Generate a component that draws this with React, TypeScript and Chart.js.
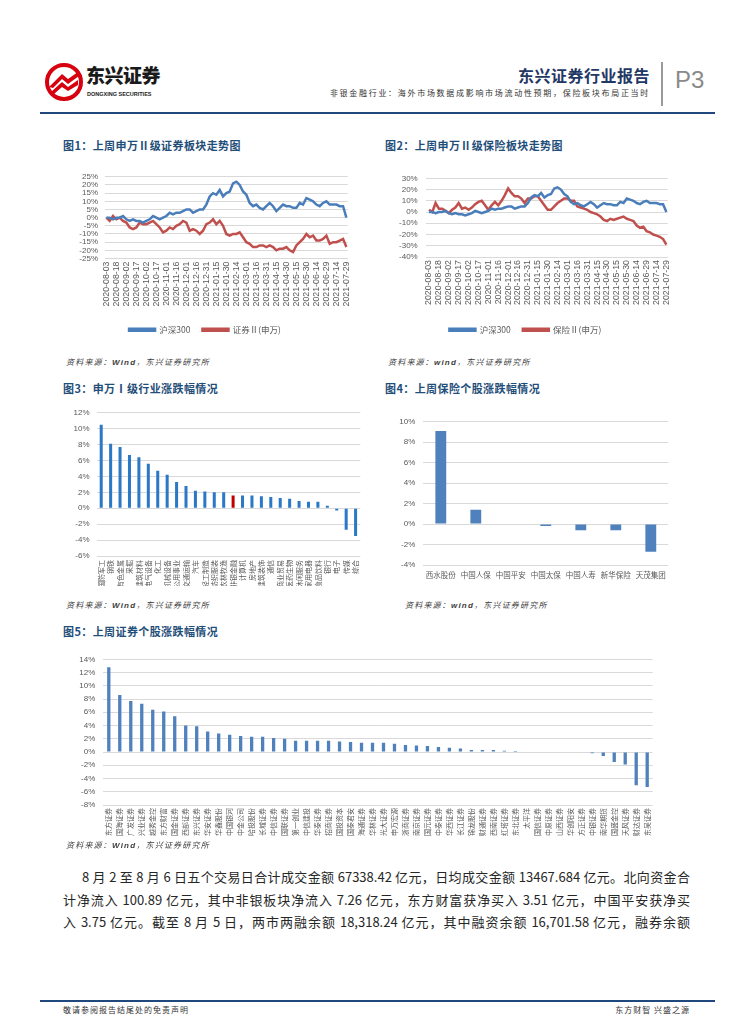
import React, { useEffect, useRef } from "react";
import { Chart, registerables } from "chart.js";

Chart.register(...registerables);

// ---------------- data ----------------
const SAMPLE_DAYS = 5; // one reading every 5 calendar days
const TICK_GAP_DAYS = 15;
const lineTickLabels = [
  "2020-08-03", "2020-08-18", "2020-09-02", "2020-09-17", "2020-10-02",
  "2020-10-17", "2020-11-01", "2020-11-16", "2020-12-01", "2020-12-16",
  "2020-12-31", "2021-01-15", "2021-01-30", "2021-02-14", "2021-03-01",
  "2021-03-16", "2021-03-31", "2021-04-15", "2021-04-30", "2021-05-15",
  "2021-05-30", "2021-06-14", "2021-06-29", "2021-07-14", "2021-07-29",
];

const hs300 = [
  0, 0, -1, 0, 0, 1, -1, -2, -1, -2,
  -2, -3, -2, -1, 1, 0, -1, 0, 1, 3,
  2, 3, 3, 4, 5, 5, 3, 4, 5, 5,
  8, 13, 15, 14, 17, 13, 15, 16, 21, 22,
  20, 16, 14, 9, 7, 8, 6, 5, 7, 9,
  7, 4, 6, 8, 7, 7, 6, 6, 9, 8,
  12, 11, 10, 8, 7, 9, 10, 8, 8, 8,
  7, 7, 0,
];

const securitiesII = [
  0, -2, 1, -1, 0, -2, -3, -6, -7, -6,
  -3, -4, -4, -3, -2, -4, -6, -9, -8, -6,
  -7, -5, -4, -2, -3, -8, -7, -8, -10, -8,
  -4, -3, -1, -4, -2, -5, -10, -11, -10, -10,
  -9, -12, -15, -16, -18, -18, -17, -17, -18, -17,
  -18, -20, -19, -19, -18, -20, -21, -17, -15, -13,
  -10, -12, -11, -14, -14, -13, -11, -16, -15, -15,
  -14, -13, -18,
];

const insuranceII = [
  2, 0, 8, 3, 3, 1, -1, 2, 4, 8,
  3, 4, 2, 4, 7, 9, 10, 6, 2, 6,
  9, 6, 10, 15, 21, 17, 14, 14, 12, 8,
  12, 12, 14, 14, 10, 6, 2, 2, 5, 8,
  10, 12, 12, 10, 10, 5, 4, 3, 2, 0,
  -1, -2, -4, -7, -8, -6, -7, -6, -5, -4,
  -6, -7, -8, -12, -14, -13, -17, -18, -20, -21,
  -22, -24, -29,
];

const industryLabels = [
  "国防军工", "钢铁", "有色金属", "采掘", "建筑材料", "电气设备", "化工",
  "机械设备", "公用事业", "交通运输", "汽车", "轻工制造", "纺织服装", "农林牧渔",
  "非银金融", "计算机", "房地产", "建筑装饰", "通信", "商业贸易", "医药生物",
  "休闲服务", "家用电器", "食品饮料", "银行", "电子", "传媒", "综合",
];
const industryValues = [
  10.5, 8.1, 7.7, 6.7, 6.4, 5.6, 4.7, 4.2, 3.3, 2.8, 2.2, 2.1, 2.0, 2.0,
  1.6, 1.6, 1.6, 1.5, 1.4, 1.3, 1.2, 0.9, 0.8, 0.8, 0.3, -0.3, -2.7, -3.5,
];
const highlightIndustry = "非银金融";

const insurerLabels = ["西水股份", "中国人保", "中国平安", "中国太保", "中国人寿", "新华保险", "天茂集团"];
const insurerValues = [9.1, 1.4, 0, -0.2, -0.6, -0.6, -2.7];

const brokerLabels = [
  "东方证券", "国海证券", "广发证券", "兴业证券", "越秀金控", "东方财富", "国金证券",
  "西部证券", "东兴证券", "华安证券", "华鑫股份", "中国银河", "中金公司", "哈投股份",
  "长城证券", "中信证券", "国联证券", "第一创业", "中信建投", "华泰证券", "招商证券",
  "国投资本", "国泰君安", "海通证券", "华林证券", "光大证券", "申万宏源", "浙商证券",
  "南京证券", "国元证券", "中泰证券", "华西证券", "长江证券", "锦龙股份", "财通证券",
  "西南证券", "红塔证券", "东北证券", "太平洋", "国信证券", "中原证券", "山西证券",
  "华创阳安", "方正证券", "中银证券", "南华期货", "国盛金控", "天风证券", "财达证券",
  "东吴证券",
];
const brokerValues = [
  12.8, 8.6, 7.7, 7.3, 6.4, 6.1, 5.4, 4.0, 3.9, 3.1,
  2.8, 2.6, 2.4, 2.3, 2.3, 2.1, 2.0, 1.7, 1.7, 1.7,
  1.7, 1.6, 1.5, 1.4, 1.4, 1.4, 1.25, 1.05, 1.0, 0.9,
  0.75, 0.65, 0.55, 0.3, 0.3, 0.3, 0.2, 0.15, 0, 0,
  0, 0, 0, 0, -0.2, -0.6, -1.5, -1.9, -5.0, -5.3,
];

// ---------------- styles ----------------
const FONT = '"Liberation Sans", "Noto Sans CJK SC", sans-serif';
const CJK = '"Noto Sans CJK SC", "Liberation Sans", sans-serif';
const TICK = "#595959";
const GRID = "#d9d9d9";
const BLUE_LINE = "#4a7ebb";
const RED_LINE = "#c0504d";
const BAR_BLUE = "#2a78c6";
const BAR_RED = "#c00000";
const BAR_STEEL = "#4f81bd";
const TITLE_BLUE = "#1f4e79";

const tf = (size: number) => ({ family: FONT, size });

function yAxis(min: number, max: number, step: number, width: number, pad: number) {
  return {
    min,
    max,
    ticks: {
      stepSize: step,
      autoSkip: false,
      callback: (v: any) => `${v}%`,
      padding: pad,
      color: TICK,
      font: tf(8),
    },
    grid: { color: GRID, drawTicks: false, lineWidth: 1 },
    border: { display: false },
    afterFit: (s: any) => {
      s.width = width;
    },
  };
}

function dateAxis(min: number, max: number, height: number) {
  return {
    type: "linear",
    min,
    max,
    afterBuildTicks: (s: any) => {
      s.ticks = lineTickLabels.map((_, i) => ({ value: i * TICK_GAP_DAYS }));
    },
    ticks: {
      autoSkip: false,
      maxRotation: 90,
      minRotation: 90,
      padding: 3,
      color: TICK,
      font: tf(8.8),
      callback: (_v: any, i: number) => lineTickLabels[i],
    },
    grid: { display: false, drawTicks: false },
    border: { display: false },
    afterFit: (s: any) => {
      s.height = height;
    },
  };
}

const toPoints = (vals: number[]) => vals.map((v, i) => ({ x: i * SAMPLE_DAYS, y: v }));

function lineConfig(
  redLabel: string,
  redVals: number[],
  yMin: number,
  yMax: number,
  yStep: number,
  xMin: number,
  xMax: number,
  pad: { left: number; top: number; right: number; bottom: number },
  xHeight: number,
  yWidth: number,
  yPad: number
) {
  return {
    type: "line",
    data: {
      datasets: [
        { label: "沪深300", data: toPoints(hs300), borderColor: BLUE_LINE, backgroundColor: BLUE_LINE, borderWidth: 2.5, pointRadius: 0, tension: 0 },
        { label: redLabel, data: toPoints(redVals), borderColor: RED_LINE, backgroundColor: RED_LINE, borderWidth: 2.5, pointRadius: 0, tension: 0 },
      ],
    },
    options: {
      responsive: false,
      animation: false,
      events: [],
      layout: { padding: pad },
      plugins: {
        tooltip: { enabled: false },
        legend: {
          position: "bottom",
          labels: { boxWidth: 26, boxHeight: 2, padding: 12, color: TICK, font: { family: CJK, size: 8.5 } },
        },
      },
      scales: {
        x: dateAxis(xMin, xMax, xHeight),
        y: yAxis(yMin, yMax, yStep, yWidth, yPad),
      },
    },
  };
}

function barConfig(o: {
  labels: string[];
  values: number[];
  colors: string[];
  yMin: number;
  yMax: number;
  yWidth: number;
  yPad: number;
  xHeight: number;
  xPad: number;
  rotate: boolean;
  xFont: number;
  pad: { left: number; top: number; right: number; bottom: number };
  barPct: number;
}) {
  return {
    type: "bar",
    data: {
      labels: o.labels,
      datasets: [{ data: o.values, backgroundColor: o.colors, barPercentage: o.barPct, categoryPercentage: 1 }],
    },
    options: {
      responsive: false,
      animation: false,
      events: [],
      layout: { padding: o.pad },
      plugins: { legend: { display: false }, tooltip: { enabled: false } },
      scales: {
        x: {
          grid: { display: false, drawTicks: false },
          border: { display: false },
          ticks: {
            autoSkip: false,
            maxRotation: o.rotate ? 90 : 0,
            minRotation: o.rotate ? 90 : 0,
            padding: o.xPad,
            color: TICK,
            font: { family: CJK, size: o.xFont },
          },
          afterFit: (s: any) => {
            s.height = o.xHeight;
          },
        },
        y: yAxis(o.yMin, o.yMax, 2, o.yWidth, o.yPad),
      },
    },
  };
}

// ---------------- components ----------------
function ChartBox({ x, y, w, h, make }: { x: number; y: number; w: number; h: number; make: () => any }) {
  const ref = useRef<HTMLCanvasElement>(null);
  useEffect(() => {
    if (!ref.current) return;
    const chart = new Chart(ref.current, make());
    return () => chart.destroy();
  }, []);
  return (
    <canvas
      ref={ref}
      width={w}
      height={h}
      style={{ position: "absolute", left: x, top: y, width: w, height: h, display: "block" }}
    />
  );
}

function T({ x, y, size, children, style }: { x: number; y: number; size: number; children: any; style?: any }) {
  return (
    <div
      style={{
        position: "absolute",
        left: x,
        top: y,
        fontSize: size,
        lineHeight: 1.2,
        whiteSpace: "nowrap",
        fontFamily: CJK,
        color: "#333",
        ...style,
      }}
    >
      {children}
    </div>
  );
}

const titleStyle = { color: TITLE_BLUE, fontWeight: 700, letterSpacing: 0.4 };
const srcStyle = { fontStyle: "italic", color: "#404040", letterSpacing: 1.2 };

const paraLines = [
  "8 月 2 至 8 月 6 日五个交易日合计成交金额 67338.42 亿元，日均成交金额 13467.684 亿元。北向资金合",
  "计净流入 100.89 亿元，其中非银板块净流入 7.26 亿元，东方财富获净买入 3.51 亿元，中国平安获净买",
  "入 3.75 亿元。截至 8 月 5 日，两市两融余额 18,318.24 亿元，其中融资余额 16,701.58 亿元，融券余额",
];

export default function App() {
  return (
    <div
      style={{
        position: "absolute",
        left: 0,
        top: 0,
        width: 755,
        height: 1024,
        background: "#fff",
        overflow: "hidden",
        fontFamily: CJK,
      }}
    >
      {/* header */}
      <svg style={{ position: "absolute", left: 44, top: 62 }} width={40} height={40} viewBox="0 0 40 40">
        <circle cx="20" cy="20" r="17" fill="#fff" stroke="#d7000f" strokeWidth="4" />
        <path d="M5 25 L18 12 L24 17 L34 10 L35 14 L24 22 L18 17 L9 26 Z" fill="#d7000f" />
        <path d="M7 30 L18 20 L24 25 L34 18 L34 23 L24 29 L18 25 L10 32 Z" fill="#d7000f" />
      </svg>
      <T x={86} y={64} size={19} style={{ fontWeight: 900, color: "#1a1a1a", letterSpacing: -0.5 }}>
        东兴证券
      </T>
      <T x={87} y={91} size={5.5} style={{ fontFamily: FONT, fontWeight: 700, color: "#1a1a1a" }}>
        DONGXING SECURITIES
      </T>
      <div
        style={{
          position: "absolute",
          right: 105,
          top: 66,
          fontSize: 16,
          lineHeight: 1.2,
          fontWeight: 700,
          color: "#1f3864",
          letterSpacing: 0.5,
          fontFamily: CJK,
          whiteSpace: "nowrap",
        }}
      >
        东兴证券行业报告
      </div>
      <div
        style={{
          position: "absolute",
          right: 105,
          top: 88,
          fontSize: 8,
          lineHeight: 1.2,
          color: "#333",
          letterSpacing: 1.7,
          fontFamily: CJK,
          whiteSpace: "nowrap",
        }}
      >
        非银金融行业：海外市场数据成影响市场流动性预期，保险板块布局正当时
      </div>
      <div style={{ position: "absolute", left: 661, top: 62, width: 1.5, height: 44, background: "#9a9a9a" }} />
      <T x={675} y={66} size={24} style={{ fontFamily: FONT, color: "#8a8a8a", fontWeight: 300 }}>
        P3
      </T>
      <div style={{ position: "absolute", left: 40, top: 112, width: 675, height: 1.5, background: "#1f497d" }} />

      {/* chart titles */}
      <T x={63} y={139} size={11} style={titleStyle}>图1：上周申万Ⅱ级证券板块走势图</T>
      <T x={385} y={139} size={11} style={titleStyle}>图2：上周申万Ⅱ级保险板块走势图</T>
      <T x={63} y={382} size={11} style={titleStyle}>图3：申万Ⅰ级行业涨跌幅情况</T>
      <T x={385} y={382} size={11} style={titleStyle}>图4：上周保险个股涨跌幅情况</T>
      <T x={63} y={625} size={11} style={titleStyle}>图5：上周证券个股涨跌幅情况</T>

      {/* charts */}
      <ChartBox
        x={60}
        y={165}
        w={300}
        h={180}
        make={() =>
          lineConfig("证券Ⅱ(申万)", securitiesII, -25, 25, 5, -2, 362, { left: 0, top: 11, right: 10, bottom: 1 }, 55, 45, 7)
        }
      />
      <ChartBox
        x={380}
        y={165}
        w={300}
        h={180}
        make={() =>
          lineConfig("保险Ⅱ(申万)", insuranceII, -40, 30, 10, -5, 362, { left: 0.7, top: 13.3, right: 10, bottom: 1 }, 56.5, 45, 8)
        }
      />
      <ChartBox
        x={60}
        y={400}
        w={310}
        h={190}
        make={() =>
          barConfig({
            labels: industryLabels,
            values: industryValues,
            colors: industryLabels.map((l) => (l === highlightIndustry ? BAR_RED : BAR_BLUE)),
            yMin: -6,
            yMax: 12,
            yWidth: 36.5,
            yPad: 7,
            xHeight: 30,
            xPad: 4,
            rotate: true,
            xFont: 7,
            pad: { left: 0, top: 12.7, right: 9.7, bottom: 4 },
            barPct: 0.32,
          })
        }
      />
      <ChartBox
        x={380}
        y={400}
        w={310}
        h={195}
        make={() =>
          barConfig({
            labels: insurerLabels,
            values: insurerValues,
            colors: insurerLabels.map(() => BAR_STEEL),
            yMin: -4,
            yMax: 10,
            yWidth: 43.3,
            yPad: 8,
            xHeight: 25,
            xPad: 6,
            rotate: false,
            xFont: 7.5,
            pad: { left: 0, top: 21.7, right: 21.7, bottom: 5 },
            barPct: 0.31,
          })
        }
      />
      <ChartBox
        x={60}
        y={645}
        w={610}
        h={200}
        make={() =>
          barConfig({
            labels: brokerLabels,
            values: brokerValues,
            colors: brokerLabels.map(() => BAR_STEEL),
            yMin: -8,
            yMax: 14,
            yWidth: 43.3,
            yPad: 8,
            xHeight: 36,
            xPad: 3,
            rotate: true,
            xFont: 7,
            pad: { left: 0, top: 14.3, right: 17.3, bottom: 4 },
            barPct: 0.3,
          })
        }
      />

      {/* sources */}
      <T x={66} y={357} size={8} style={srcStyle}>资料来源：<b style={{ fontFamily: FONT }}>Wind</b>，东兴证券研究所</T>
      <T x={388} y={357} size={8} style={srcStyle}>资料来源：<b style={{ fontFamily: FONT }}>wind</b>，东兴证券研究所</T>
      <T x={66} y={600} size={8} style={srcStyle}>资料来源：<b style={{ fontFamily: FONT }}>Wind</b>，东兴证券研究所</T>
      <T x={405} y={600} size={8} style={srcStyle}>资料来源：<b style={{ fontFamily: FONT }}>wind</b>，东兴证券研究所</T>
      <T x={66} y={840} size={8} style={srcStyle}>资料来源：<b style={{ fontFamily: FONT }}>Wind</b>，东兴证券研究所</T>

      {/* paragraph */}
      {paraLines.map((line, i) => (
        <div
          key={i}
          style={{
            position: "absolute",
            left: i === 0 ? 82 : 63,
            top: 868 + i * 22.5,
            width: i === 0 ? 608 : 627,
            fontSize: 13,
            lineHeight: "18px",
            color: "#262626",
            fontFamily: CJK,
            textAlign: "justify",
            textAlignLast: "justify",
          }}
        >
          {line}
        </div>
      ))}

      {/* footer */}
      <div style={{ position: "absolute", left: 40, top: 1000, width: 675, height: 1.5, background: "#1f497d" }} />
      <T x={63} y={1005} size={8} style={{ letterSpacing: 1 }}>敬请参阅报告结尾处的免责声明</T>
      <div
        style={{
          position: "absolute",
          right: 65,
          top: 1005,
          fontSize: 8,
          lineHeight: 1.2,
          color: "#333",
          letterSpacing: 1,
          whiteSpace: "nowrap",
          fontFamily: CJK,
        }}
      >
        东方财智 兴盛之源
      </div>
    </div>
  );
}
